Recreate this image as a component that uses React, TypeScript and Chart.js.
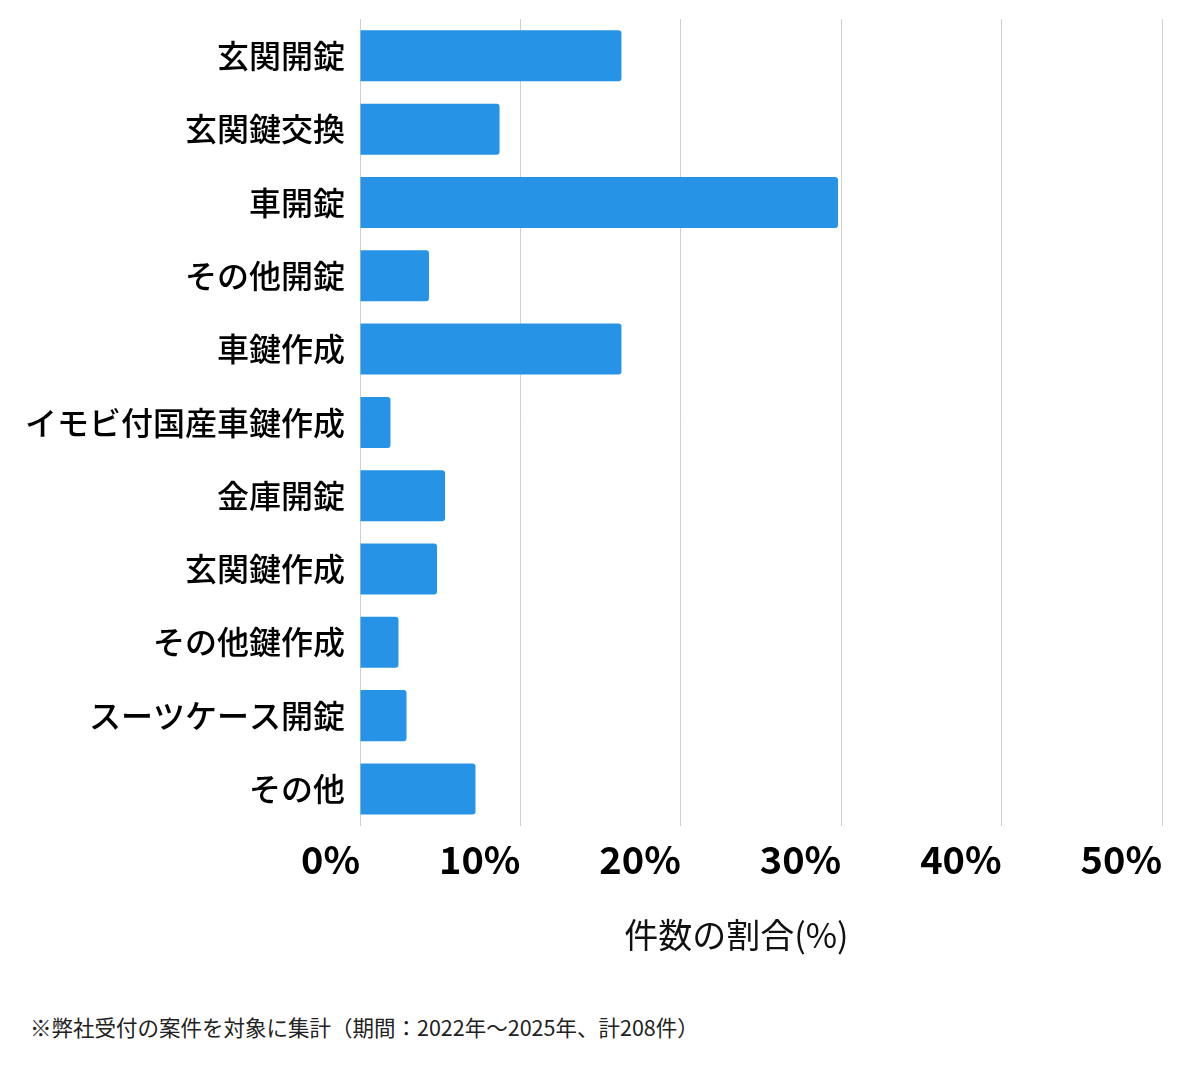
import React, { useEffect, useRef } from "react";
import { Chart, registerables } from "chart.js";

Chart.register(...registerables);

const categories = [
  "玄関開錠",
  "玄関鍵交換",
  "車開錠",
  "その他開錠",
  "車鍵作成",
  "イモビ付国産車鍵作成",
  "金庫開錠",
  "玄関鍵作成",
  "その他鍵作成",
  "スーツケース開錠",
  "その他",
];

const shares = [16.3, 8.7, 29.8, 4.3, 16.3, 1.9, 5.3, 4.8, 2.4, 2.9, 7.2];

const xTicks = [0, 10, 20, 30, 40, 50];

const axisTitle = "件数の割合(%)\u3000  ";
const footnote = "※弊社受付の案件を対象に集計（期間：2022年〜2025年、計208件）";

const FONT = "'Noto Sans CJK JP', 'Noto Sans', sans-serif";

export default function App() {
  const canvasRef = useRef<HTMLCanvasElement | null>(null);

  useEffect(() => {
    document.body.style.margin = "0";
    const ctx = canvasRef.current;
    if (!ctx) return;
    const chart = new Chart(ctx, {
      type: "bar",
      data: {
        labels: categories,
        datasets: [
          {
            data: shares,
            backgroundColor: "#2693e6",
            borderRadius: 3,
            borderSkipped: "start",
            categoryPercentage: 0.8,
            barPercentage: 0.87,
          },
        ],
      },
      options: {
        indexAxis: "y",
        animation: false,
        responsive: true,
        maintainAspectRatio: false,
        layout: { padding: { top: 3, right: 38, left: 18, bottom: 10 } },
        plugins: {
          legend: { display: false },
          tooltip: { enabled: false },
        },
        scales: {
          x: {
            min: 0,
            max: 50,
            afterBuildTicks: (axis: any) => {
              axis.ticks = xTicks.map((v) => ({ value: v }));
            },
            grid: { color: "#cfcfcf", lineWidth: 1, drawTicks: false },
            border: { display: false },
            ticks: {
              align: "end",
              padding: 11,
              color: "#000",
              font: { family: FONT, size: 38, weight: "bold" },
              callback: (v: any) => `${v}%`,
            },
            title: {
              display: true,
              text: axisTitle,
              color: "#111",
              font: { family: FONT, size: 34, weight: "normal" },
              padding: { top: 21, bottom: 10 },
            },
          },
          y: {
            grid: { display: false },
            border: { display: false },
            ticks: {
              padding: 7,
              color: "#000",
              font: { family: FONT, size: 32, weight: 500 },
            },
          },
        },
      },
    });
    return () => chart.destroy();
  }, []);

  return (
    <div style={{ position: "relative", width: 1200, height: 1069, background: "#fff", overflow: "hidden" }}>
      <div style={{ position: "absolute", left: 0, top: -7, width: 1200, height: 982 }}>
        <canvas ref={canvasRef} />
      </div>
      <div
        style={{
          position: "absolute",
          left: 30,
          top: 1013,
          fontFamily: FONT,
          fontSize: 21.5,
          color: "#222",
          whiteSpace: "nowrap",
          lineHeight: "28px",
        }}
      >
        {footnote}
      </div>
    </div>
  );
}
